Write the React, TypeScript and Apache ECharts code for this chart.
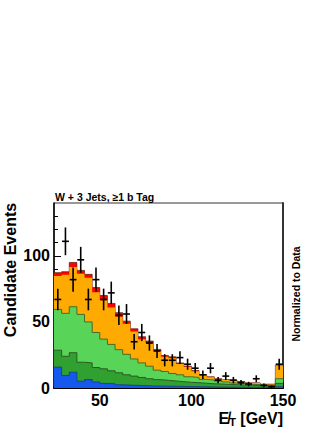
import React, { useEffect, useRef } from "react";
import * as echarts from "echarts";

// Histogram binning (GeV)
const X_MIN = 25;
const X_MAX = 150;
const BIN_COUNT = 30;
const BIN_WIDTH = (X_MAX - X_MIN) / BIN_COUNT;

// Stacked background components (events per bin), bottom to top
const blue = [15.8, 9.5, 12, 5.2, 6.4, 4.6, 3.5, 3.2, 2.5, 2.2, 2, 1.8, 1.6, 1.5, 1.4, 1.3, 1.2, 1.1, 1, 0.9, 0.8, 0.7, 0.7, 0.6, 0.6, 0.5, 0.5, 0.4, 0.4, 1];
const darkGreen = [12.8, 14.5, 14.7, 14.3, 12.6, 10.9, 11, 9.8, 9, 7.8, 7, 6.2, 5.4, 4.8, 4.4, 4, 3.6, 3.2, 3, 2.7, 2.4, 2.3, 2, 1.9, 1.6, 1.5, 1.3, 1.2, 1.1, 2.5];
const lightGreen = [30.9, 32.5, 34.8, 36.2, 31, 26.5, 22.5, 20, 17.5, 15.5, 13, 11, 9.5, 7.2, 6.7, 5.7, 5.2, 4.2, 4, 2.9, 2.8, 2.2, 1.9, 1.3, 1.1, 0.8, 0.8, 0.6, 0.5, 3.5];
const orange = [25.3, 29.2, 30, 30.8, 33.5, 30.5, 29.5, 28, 25, 23.1, 20.8, 17.8, 17.5, 14.5, 11.1, 11.6, 8.2, 7.3, 4.7, 3.2, 2.1, 1.4, 1.5, 1.6, 1.3, 0.9, 1.1, 0.5, 0.7, 10];
const red = [2.5, 2.3, 3.5, 2.5, 2.5, 3.5, 3.5, 3, 3, 2, 2, 2, 1.5, 1.2, 1, 1, 0.8, 0.7, 0.6, 0.5, 0.4, 0.4, 0.3, 0.3, 0.3, 0.2, 0.2, 0.2, 0.2, 0.3];

// Observed data and uncertainties
const dataCounts = [67, 111, 82, 97, 67, 82, 67, 72, 55, 56, 35, 42, 34, 28, 21, 21, 23, 18, 15, 10, 15, 6, 9, 6, 4, 3, 7, 2, 1, 18];
const dataErrors = [8.2, 10.5, 9.1, 9.8, 8.2, 9.1, 8.2, 8.5, 7.4, 7.5, 5.9, 6.5, 5.8, 5.3, 4.6, 4.6, 4.8, 4.2, 3.9, 3.2, 3.9, 2.4, 3, 2.4, 2, 1.7, 2.6, 1.4, 1, 4.2];

// Tick values
const xTickLabels = [50, 100, 150];
const xMinorTicks = [30, 40, 60, 70, 80, 90, 110, 120, 130, 140];
const yTickLabels = [0, 50, 100];
const yMinorTicks = [10, 20, 30, 40, 60, 70, 80, 90, 110, 120, 130];

const FONT = "'Liberation Sans', Arial, Helvetica, sans-serif";

function cumulative(layers: number[][]): number[][] {
  const out: number[][] = [];
  let acc = new Array(BIN_COUNT).fill(0);
  layers.forEach((l) => {
    acc = acc.map((a, i) => a + l[i]);
    out.push(acc.slice());
  });
  return out;
}

function stair(tops: number[]): number[][] {
  const pts: number[][] = [];
  tops.forEach((v, i) => {
    const x0 = X_MIN + i * BIN_WIDTH;
    pts.push([x0, v], [x0 + BIN_WIDTH, v]);
  });
  return pts;
}

export default function App() {
  const ref = useRef<HTMLDivElement>(null);
  useEffect(() => {
    if (!ref.current) return;
    const chart = echarts.init(ref.current, undefined, { renderer: "svg" });
    const [blueTop, dgTop, lgTop, orTop, totTop] = cumulative([blue, darkGreen, lightGreen, orange, red]);
    const layer = (tops: number[], color: string, edge: string, width: number, z: number) => ({
      type: "line",
      data: stair(tops),
      symbol: "none",
      silent: true,
      z,
      lineStyle: { color: edge, width },
      areaStyle: { color, opacity: 1 },
    });
    chart.setOption({
      animation: false,
      grid: { left: 54, right: 49, top: 203, bottom: 42, show: true, borderColor: "#333", borderWidth: 1, backgroundColor: "transparent" },
      xAxis: [
        {
          type: "value", min: X_MIN, max: X_MAX, position: "bottom",
          axisLine: { show: true, onZero: false, lineStyle: { color: "#000", width: 2 } },
          axisTick: { show: true, inside: true, length: 6, customValues: xTickLabels, lineStyle: { color: "#000", width: 1 } },
          axisLabel: { customValues: xTickLabels, fontSize: 16, fontWeight: "bold", fontFamily: FONT, color: "#000", margin: 4 },
          splitLine: { show: false },
        },
        {
          type: "value", min: X_MIN, max: X_MAX, position: "bottom",
          axisLine: { show: false },
          axisTick: { show: true, inside: true, length: 3.5, customValues: xMinorTicks, lineStyle: { color: "#000", width: 1 } },
          axisLabel: { show: false },
          splitLine: { show: false },
        },
      ],
      yAxis: [
        {
          type: "value", min: 0, max: 140, position: "left",
          axisLine: { show: true, onZero: false, lineStyle: { color: "#000", width: 1.5 } },
          axisTick: { show: true, inside: true, length: 7, customValues: yTickLabels, lineStyle: { color: "#000", width: 1 } },
          axisLabel: { customValues: yTickLabels, fontSize: 16, fontWeight: "bold", fontFamily: FONT, color: "#000", margin: 4 },
          splitLine: { show: false },
        },
        {
          type: "value", min: 0, max: 140, position: "left",
          axisLine: { show: false },
          axisTick: { show: true, inside: true, length: 4, customValues: yMinorTicks, lineStyle: { color: "#000", width: 1 } },
          axisLabel: { show: false },
          splitLine: { show: false },
        },
        {
          type: "value", min: 0, max: 140, position: "right",
          axisLine: { show: true, onZero: false, lineStyle: { color: "#333", width: 2 } },
          axisTick: { show: false },
          axisLabel: { show: false },
          splitLine: { show: false },
        },
      ],
      series: [
        layer(totTop, "#ff0000", "#5a1a0a", 0.7, 1),
        layer(orTop, "#ffaa00", "#ffaa00", 0, 2),
        layer(lgTop, "#58d458", "#4a6a2a", 1, 3),
        layer(dgTop, "#30a030", "#2d5a22", 1, 4),
        layer(blueTop, "#1458ee", "#1a3a7a", 0.8, 5),
        {
          type: "custom",
          z: 10,
          silent: true,
          data: dataCounts.map((v, i) => [X_MIN + (i + 0.5) * BIN_WIDTH, v, dataErrors[i]]),
          renderItem: (_params: any, api: any) => {
            const xc = api.value(0);
            const y = api.value(1);
            const e = api.value(2);
            const pT = api.coord([xc, y + e]);
            const pB = api.coord([xc, Math.max(0, y - e)]);
            const pL = api.coord([xc - BIN_WIDTH * 0.45, y]);
            const pR = api.coord([xc + BIN_WIDTH * 0.45, y]);
            return {
              type: "group",
              children: [
                { type: "line", shape: { x1: pT[0], y1: pT[1], x2: pB[0], y2: pB[1] }, style: { stroke: "#000", lineWidth: 1.6 } },
                { type: "line", shape: { x1: pL[0], y1: pL[1], x2: pR[0], y2: pR[1] }, style: { stroke: "#000", lineWidth: 1.6 } },
              ],
            };
          },
        },
      ],
      graphic: [
        {
          type: "text", left: 55, top: 191,
          style: { text: "W + 3 Jets, ≥1 b Tag", font: `bold 10.5px ${FONT}`, fill: "#000" },
        },
        {
          type: "text", x: 10, y: 270, rotation: Math.PI / 2,
          style: { text: "Candidate Events", font: `bold 16px ${FONT}`, fill: "#000", textAlign: "center", textVerticalAlign: "middle" },
        },
        {
          type: "text", x: 296, y: 294, rotation: Math.PI / 2,
          style: { text: "Normalized to Data", font: `bold 10.5px ${FONT}`, fill: "#000", textAlign: "center", textVerticalAlign: "middle" },
        },
        {
          type: "text", x: 283, y: 418,
          style: {
            text: "{e|E\u0338}{t|T}{g| [GeV]}",
            textAlign: "right", textVerticalAlign: "middle",
            rich: {
              e: { font: `bold 16px ${FONT}`, fill: "#000", lineHeight: 18 },
              t: { font: `bold 11px ${FONT}`, fill: "#000", lineHeight: 18, padding: [8, 0, 0, 0] },
              g: { font: `bold 16px ${FONT}`, fill: "#000", lineHeight: 18 },
            },
          },
        },
      ],
    });
    return () => chart.dispose();
  }, []);
  return <div ref={ref} style={{ position: "absolute", left: 0, top: 0, width: 332, height: 430 }} />;
}
